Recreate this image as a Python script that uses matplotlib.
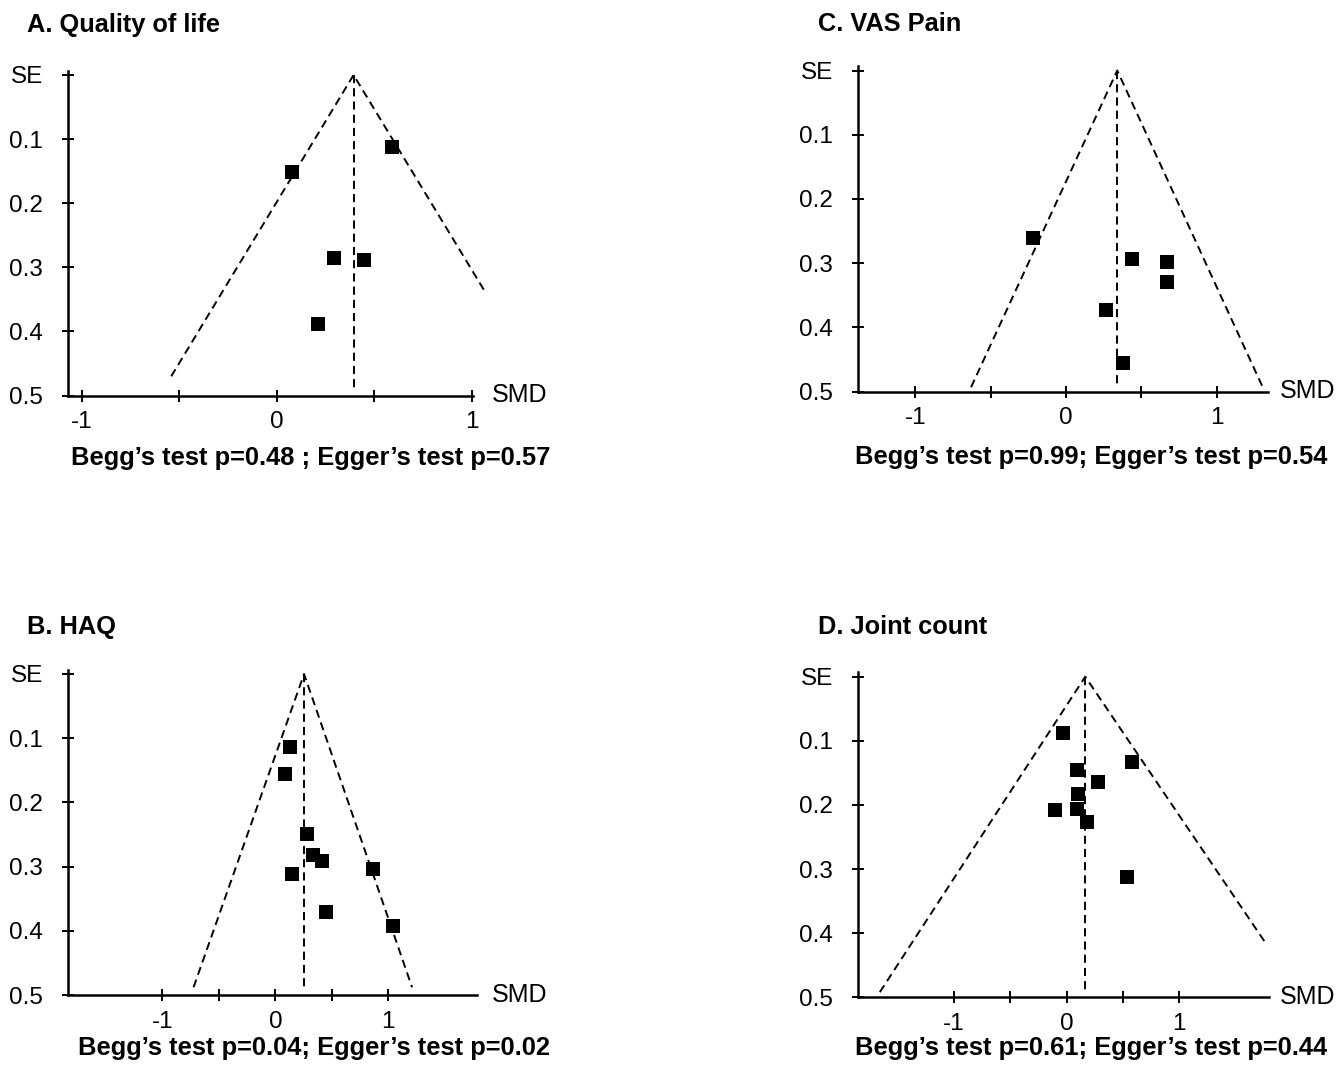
import numpy as np
import matplotlib
matplotlib.use('Agg')
import matplotlib.pyplot as plt

plt.rcParams['font.family'] = ['Liberation Sans', 'DejaVu Sans']

# ---- data (SMD, SE) ----
qol_smd = [0.591, 0.079, 0.297, 0.450, 0.211]
qol_se = [0.113, 0.152, 0.286, 0.289, 0.389]
qol_pooled = 0.395
qol_left_end = (-0.54, 0.47)
qol_right_end = (1.073, 0.34)

vas_smd = [-0.218, 0.439, 0.669, 0.669, 0.268, 0.375]
vas_se = [0.261, 0.293, 0.298, 0.330, 0.373, 0.455]
vas_pooled = 0.34
vas_left_end = (-0.63, 0.493)
vas_right_end = (1.305, 0.493)

haq_smd = [0.127, 0.086, 0.283, 0.330, 0.412, 0.864, 0.149, 0.444, 1.038]
haq_se = [0.113, 0.156, 0.249, 0.282, 0.291, 0.303, 0.312, 0.371, 0.392]
haq_pooled = 0.254
haq_left_end = (-0.724, 0.488)
haq_right_end = (1.21, 0.488)

jc_smd = [-0.031, 0.579, 0.089, 0.279, 0.104, -0.104, 0.089, 0.180, 0.532]
jc_se = [0.088, 0.133, 0.146, 0.164, 0.183, 0.208, 0.207, 0.227, 0.313]
jc_pooled = 0.165
jc_left_end = (-1.66, 0.492)
jc_right_end = (1.762, 0.414)

se_ticks = [0, 0.1, 0.2, 0.3, 0.4, 0.5]
se_labels = ['SE', '0.1', '0.2', '0.3', '0.4', '0.5']
smd_ticks = [-1, -0.5, 0, 0.5, 1]
smd_labels = ['-1', '', '0', '', '1']

W, H = 1338, 1066
SE_TOP = -0.007   # axis line runs a little above the SE=0 tick


def px_rect(x0, x1, ytick0, ybot):
    # ytick0 = pixel row of the SE=0 tick, ybot = x-axis row
    ytop = ytick0 - (ybot - ytick0) * (-SE_TOP) / 0.5
    return [x0 / W, 1 - ybot / H, (x1 - x0) / W, (ybot - ytop) / H]


def funnelPlot(ax, smd, se, pooled, left_end, right_end, xlim):
    dash = dict(color='black', lw=1.4, dashes=(4.2, 2.6), clip_on=False)
    ax.plot([left_end[0], pooled, right_end[0]],
            [left_end[1], 0, right_end[1]], **dash)
    ax.plot([pooled, pooled], [0, 0.49], **dash)
    ax.plot(smd, se, 's', color='black', markersize=10, markeredgewidth=0,
            clip_on=False)
    ax.set_xlim(*xlim)
    ax.set_ylim(0.5, SE_TOP)
    ax.set_xticks(smd_ticks)
    ax.set_xticklabels(smd_labels)
    ax.set_yticks(se_ticks)
    ax.set_yticklabels(se_labels)
    for s in ['top', 'right']:
        ax.spines[s].set_visible(False)
    for s in ['left', 'bottom']:
        ax.spines[s].set_linewidth(1.8)
    ax.tick_params(axis='both', direction='inout', length=9, width=1.4,
                   labelsize=17.5)
    ax.tick_params(axis='y', pad=13.5)
    ax.tick_params(axis='x', pad=6.8)


fig = plt.figure(figsize=(W / 100, H / 100), dpi=100)

axA = fig.add_axes(px_rect(68.3, 473.3, 75, 395.5))
funnelPlot(axA, qol_smd, qol_se, qol_pooled, qol_left_end, qol_right_end,
           (-1.068, 1.009))
axC = fig.add_axes(px_rect(858.3, 1268.3, 70.5, 391.7))
funnelPlot(axC, vas_smd, vas_se, vas_pooled, vas_left_end, vas_right_end,
           (-1.378, 1.342))
axB = fig.add_axes(px_rect(68, 476.7, 674, 995))
funnelPlot(axB, haq_smd, haq_se, haq_pooled, haq_left_end, haq_right_end,
           (-1.835, 1.782))
axD = fig.add_axes(px_rect(858.3, 1269.3, 676.7, 997.3))
funnelPlot(axD, jc_smd, jc_se, jc_pooled, jc_left_end, jc_right_end,
           (-1.851, 1.80))

# "SMD" axis names at the right end of each x-axis (pixel positions)
for x, y in [(491.7, 402), (1280, 398), (491.7, 1001.5), (1280, 1003.8)]:
    fig.text(x / W, 1 - y / H, 'SMD', fontsize=18, ha='left', va='baseline')

# panel titles and test results
titles = [('A. Quality of life', 27, 32.4), ('C. VAS Pain', 818.3, 30.8),
          ('B. HAQ', 27, 634), ('D. Joint count', 818.3, 634)]
for t, x, y in titles:
    fig.text(x / W, 1 - y / H, t, fontsize=18.3, fontweight='bold',
             ha='left', va='baseline')

tests = [('Begg\u2019s test p=0.48 ; Egger\u2019s test p=0.57', 550, 465),
         ('Begg\u2019s test p=0.99; Egger\u2019s test p=0.54', 1327, 464),
         ('Begg\u2019s test p=0.04; Egger\u2019s test p=0.02', 550, 1055),
         ('Begg\u2019s test p=0.61; Egger\u2019s test p=0.44', 1327, 1055)]
for t, x, y in tests:
    fig.text(x / W, 1 - y / H, t, fontsize=18.4, fontweight='bold',
             ha='right', va='baseline')

fig.savefig('out.png', dpi=100)
